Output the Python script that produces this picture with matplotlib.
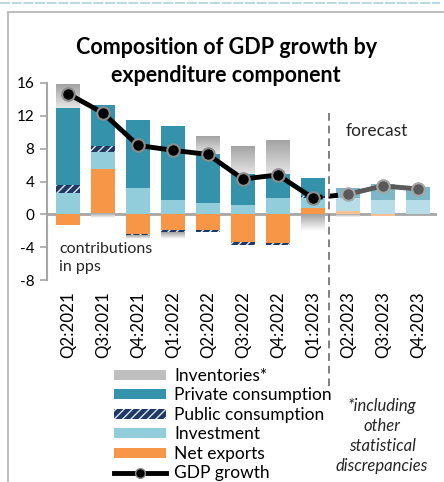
import numpy as np
import matplotlib
matplotlib.use("Agg")
import matplotlib.pyplot as plt
from matplotlib.colors import LinearSegmentedColormap
from matplotlib.patches import Patch, Rectangle
from matplotlib.lines import Line2D
import matplotlib.transforms as mtransforms

plt.rcParams['font.family'] = ['Lato', 'DejaVu Sans']
plt.rcParams['axes.unicode_minus'] = False

# contributions to GDP growth, pps
quarters = ['Q2:2021', 'Q3:2021', 'Q4:2021', 'Q1:2022', 'Q2:2022', 'Q3:2022',
            'Q4:2022', 'Q1:2023', 'Q2:2023', 'Q3:2023', 'Q4:2023']
net_exports = [-1.35, 5.5, -2.35, -1.9, -1.95, -3.4, -3.45, 0.8, 0.45, -0.25, 0.0]
investment = [2.6, 2.05, 3.25, 1.7, 1.4, 1.1, 2.05, 1.2, 1.5, 1.8, 1.8]
public_cons = [1.0, 0.75, -0.2, -0.25, -0.15, -0.35, -0.3, 0.2, 0.0, 0.0, 0.0]
private_cons = [9.3, 5.0, 8.3, 9.1, 6.0, 3.8, 2.85, 2.2, 1.3, 1.95, 1.5]
inventories = [2.9, -0.5, -0.4, -0.85, 2.15, 3.4, 4.05, -2.0, -0.3, 0.0, 0.0]
gdp = [14.7, 12.35, 8.4, 7.8, 7.3, 4.3, 4.8, 2.0, 2.45, 3.45, 3.1]
n_actual = 8

C_PRIV = ['#3592ab'] * n_actual + ['#7db7c8'] * 3
C_INV = ['#92cddc'] * n_actual + ['#b7dee8'] * 3
C_NX = ['#f79646'] * n_actual + ['#fac090'] * 3

fig = plt.figure(figsize=(4.44, 4.82), dpi=100)
ax = fig.add_axes([47 / 444, 1 - 280 / 482, 390 / 444, 197 / 482])

x = np.arange(len(quarters))
width = 0.68
pos_base = np.zeros(len(x))
neg_base = np.zeros(len(x))

grad_pos = LinearSegmentedColormap.from_list('gp', ['#e4e4e4', '#a3a3a3'])
grad_neg = LinearSegmentedColormap.from_list('gn', ['#ffffff', '#a3a3a3'])


def stack(values, colors, hatch=None):
    for i, v in enumerate(values):
        if v == 0:
            continue
        base = pos_base[i] if v > 0 else neg_base[i]
        ax.bar(x[i], v, width, bottom=base, color=colors[i], linewidth=0, zorder=2)
        if hatch and i < n_actual:
            ax.bar(x[i], v, width, bottom=base, facecolor='none', edgecolor='#dbe8f5',
                   hatch=hatch, linewidth=0, zorder=2)
        if v > 0:
            pos_base[i] += v
        else:
            neg_base[i] += v


def stack_gradient(values):
    # inventories drawn with a vertical grey gradient
    for i, v in enumerate(values):
        if v == 0:
            continue
        base = pos_base[i] if v > 0 else neg_base[i]
        y0, y1 = sorted([base, base + v])
        grad = np.linspace(0, 1, 64).reshape(-1, 1)
        ax.imshow(grad, extent=(x[i] - width / 2, x[i] + width / 2, y0, y1),
                  origin='lower', aspect='auto',
                  cmap=grad_pos if v > 0 else grad_neg, zorder=2)
        if v > 0:
            pos_base[i] += v
        else:
            neg_base[i] += v


stack(net_exports, C_NX)
stack(investment, C_INV)
stack(public_cons, ['#1f3864'] * len(x), hatch='////')
stack(private_cons, C_PRIV)
stack_gradient(inventories)

# GDP growth line
ax.plot(x[:n_actual], gdp[:n_actual], color='black', lw=3.5, zorder=4,
        marker='o', ms=9, mfc='black', mec='#8c8c8c', mew=1.5)
ax.plot(x[n_actual - 1:n_actual + 1], gdp[n_actual - 1:n_actual + 1], color='black',
        lw=3.5, ls=(0, (2, 1.2)), zorder=3)
ax.plot(x[n_actual:], gdp[n_actual:], color='#595959', lw=3.5, zorder=4,
        marker='o', ms=9, mfc='#595959', mec='#a6a6a6', mew=1.5)

ax.axhline(0, color='#a6a6a6', lw=2, zorder=1)

trans = mtransforms.blended_transform_factory(ax.transData, ax.transAxes)
ax.plot([7.45, 7.45], [0.848, -0.548], transform=trans, color='#808080', lw=1.4,
        ls=(0, (4, 2.5)), clip_on=False, zorder=5)

ax.set_xlim(-0.6, 10.55)
ax.set_ylim(-8, 16)
ax.set_yticks(range(-8, 17, 4))
ax.tick_params(axis='y', labelsize=11, length=5, width=1.2, color='#a6a6a6', pad=4)
ax.set_xticks(x)
ax.set_xticklabels(quarters, rotation=90, fontsize=12.2)
ax.tick_params(axis='x', length=0, pad=8)
for s in ['top', 'right', 'bottom']:
    ax.spines[s].set_visible(False)
ax.spines['left'].set_color('#a6a6a6')
ax.spines['left'].set_linewidth(1.5)

ax.text(-0.25, -5.3, 'contributions\nin pps', fontsize=11.5, ha='left', va='center',
        linespacing=1.35, color='#262626')
fig.text(377 / 444, 1 - 131 / 482, 'forecast', fontsize=12.5, ha='center', va='center',
         color='#262626')

fig.text(227 / 444, 1 - 47 / 482, 'Composition of GDP growth by', fontsize=15.5,
         fontweight='bold', ha='center', va='center')
fig.text(226 / 444, 1 - 75 / 482, 'expenditure component', fontsize=15.5,
         fontweight='bold', ha='center', va='center')

fig.text(382 / 444, 1 - 436 / 482, '*including\nother\nstatistical\ndiscrepancies',
         fontsize=12, style='italic', ha='center', va='center', linespacing=1.3,
         color='#262626')

handles = [
    Patch(facecolor='#bfbfbf', linewidth=0),
    Patch(facecolor='#3592ab', linewidth=0),
    Patch(facecolor='#1f3864', edgecolor='#dbe8f5', hatch='////', linewidth=0),
    Patch(facecolor='#92cddc', linewidth=0),
    Patch(facecolor='#f79646', linewidth=0),
    Line2D([], [], color='black', lw=3.5, marker='o', ms=7, mfc='black', mec='#8c8c8c'),
]
labels = ['Inventories*', 'Private consumption', 'Public consumption', 'Investment',
          'Net exports', 'GDP growth']
fig.legend(handles, labels, loc='upper left', bbox_to_anchor=(114 / 444, 1 - 368 / 482),
           frameon=False, fontsize=12.5, handlelength=3.0, handleheight=0.5,
           handletextpad=0.45, labelspacing=0.2, borderpad=0, borderaxespad=0)

# outer frame and top rule
fig.add_artist(Rectangle((8 / 444, -0.05), 1.0, 1 - 12 / 482 + 0.05, transform=fig.transFigure,
                         fill=False, edgecolor='#bfbfbf', lw=1.5))
fig.add_artist(Line2D([0, 440 / 444], [1 - 3 / 482, 1 - 3 / 482], transform=fig.transFigure,
                      color='#a9d3e0', lw=1.2, ls=(0, (6, 1))))

fig.savefig('out.png', dpi=100)
